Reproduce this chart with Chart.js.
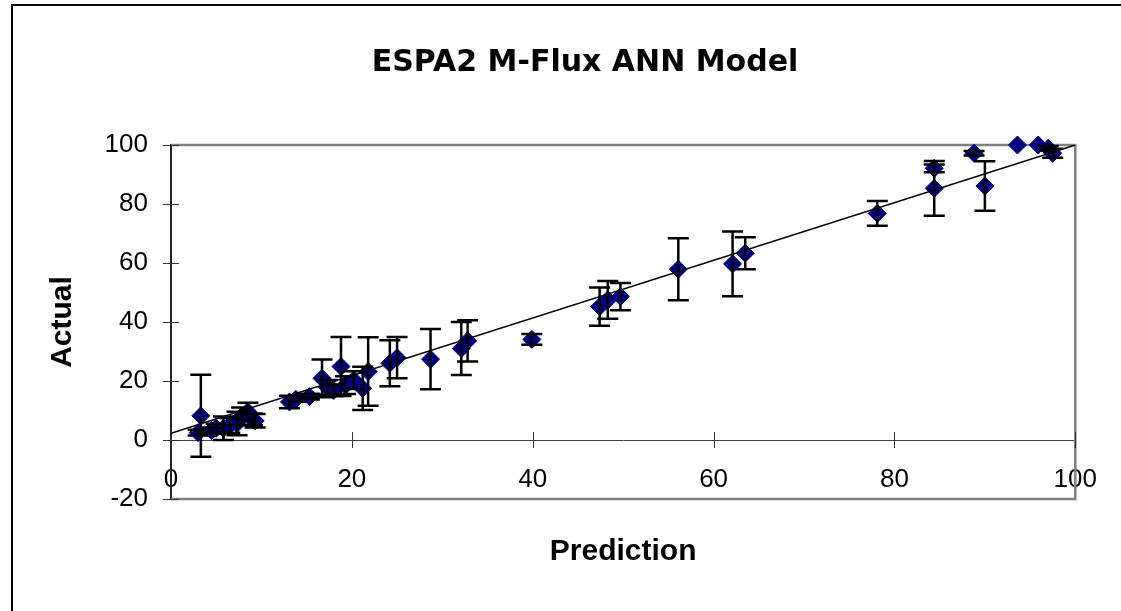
<!DOCTYPE html>
<html>
<head>
<meta charset="utf-8">
<script src="https://cdn.jsdelivr.net/npm/chart.js@4.4.0/dist/chart.umd.min.js"></script>
<style>
  html, body { margin: 0; padding: 0; background: #fff; overflow: hidden; }
  #frame { position: absolute; left: 11px; top: 4px; width: 1200px; height: 700px; border: 2px solid #000; }
  #chart { position: absolute; left: 0; top: 0; }
</style>
</head>
<body>
<div id="frame"></div>
<canvas id="chart" width="1121" height="611"></canvas>
<script>
// values
const prediction = [3.0, 3.3, 4.5, 5.0, 5.8, 6.5, 7.3, 7.8, 8.5, 9.0, 9.3,
  13.1, 13.8, 15.3, 16.7, 17.3, 18.0, 18.8, 19.3, 20.2, 21.2, 21.8,
  24.2, 25.0, 28.7, 32.1, 32.8, 39.9, 47.4, 48.3, 49.7, 56.1, 62.1, 63.5,
  78.1, 84.4, 84.4, 88.8, 90.0, 93.6, 95.9, 97.0, 97.5];
const actual = [2.5, 8.2, 3.2, 4.0, 4.0, 5.0, 5.6, 8.0, 9.6, 7.0, 6.5,
  12.9, 13.8, 14.7, 20.9, 17.8, 16.8, 24.9, 18.6, 20.3, 17.5, 23.2,
  26.0, 27.9, 27.4, 31.0, 33.6, 34.1, 45.2, 47.5, 48.6, 57.9, 59.7, 63.3,
  76.8, 85.3, 92.1, 97.2, 86.1, 100, 100, 98.9, 97.2];
const errors = [1.0, 13.9, 1.0, 1.5, 4.0, 2.5, 4.0, 3.0, 3.0, 2.0, 2.3,
  2.1, 0.8, 1.0, 6.4, 2.5, 2.0, 10.0, 3.0, 3.0, 7.3, 11.6,
  7.8, 7.0, 10.2, 9.0, 7.0, 1.8, 6.5, 6.4, 4.6, 10.5, 11.0, 5.4,
  4.2, 9.3, 1.3, 0.8, 8.4, 0, 0, 0.8, 1.5];
const trendX = [0, 100];
const trendY = [2.3, 100];
const xTicks = [0, 20, 40, 60, 80, 100];
const yTicks = [-20, 0, 20, 40, 60, 80, 100];

const tickFont = { family: '"Liberation Sans", Arial, sans-serif', size: 26 };

// plot border, cross ticks, error bars and titles
const decorations = {
  id: 'decorations',
  beforeDatasetsDraw(chart) {
    const { ctx, chartArea: a, scales: { x, y } } = chart;
    ctx.save();
    ctx.strokeStyle = '#808080';
    ctx.lineWidth = 2.5;
    ctx.beginPath();
    ctx.moveTo(a.left, a.top);
    ctx.lineTo(a.right, a.top);
    ctx.lineTo(a.right, a.bottom);
    ctx.lineTo(a.left, a.bottom);
    ctx.stroke();

    ctx.strokeStyle = '#333';
    ctx.lineWidth = 1;
    ctx.beginPath();
    const y0 = y.getPixelForValue(0);
    x.ticks.forEach(t => {
      const px = Math.round(x.getPixelForValue(t.value)) + 0.5;
      ctx.moveTo(px, y0 - 8);
      ctx.lineTo(px, y0 + 8);
    });
    y.ticks.forEach(t => {
      const py = Math.round(y.getPixelForValue(t.value)) + 0.5;
      ctx.moveTo(a.left - 8, py);
      ctx.lineTo(a.left + 8, py);
    });
    ctx.stroke();
    ctx.restore();
  },
  afterDatasetsDraw(chart) {
    const { ctx, scales: { x, y } } = chart;
    ctx.save();
    ctx.strokeStyle = '#000';
    ctx.lineWidth = 2.5;
    ctx.beginPath();
    prediction.forEach((p, i) => {
      if (!errors[i]) return;
      const px = x.getPixelForValue(p);
      const top = y.getPixelForValue(actual[i] + errors[i]);
      const bot = y.getPixelForValue(actual[i] - errors[i]);
      ctx.moveTo(px, top);
      ctx.lineTo(px, bot);
      ctx.moveTo(px - 10.5, top);
      ctx.lineTo(px + 10.5, top);
      ctx.moveTo(px - 10.5, bot);
      ctx.lineTo(px + 10.5, bot);
    });
    ctx.stroke();
    ctx.restore();
  },
  afterDraw(chart) {
    const { ctx, chartArea: a } = chart;
    ctx.save();
    ctx.fillStyle = '#000';
    ctx.textAlign = 'center';
    ctx.textBaseline = 'middle';
    ctx.font = 'bold 30px "DejaVu Sans"';
    ctx.fillText('ESPA2 M-Flux ANN Model', 585, 63);
    ctx.font = 'bold 30px "Liberation Sans"';
    ctx.fillText('Prediction', (a.left + a.right) / 2, 552);
    ctx.translate(63, (a.top + a.bottom) / 2);
    ctx.rotate(-Math.PI / 2);
    ctx.fillText('Actual', 0, 0);
    ctx.restore();
  }
};

new Chart(document.getElementById('chart'), {
  type: 'scatter',
  data: {
    datasets: [
      {
        label: 'Trend',
        data: trendX.map((v, i) => ({ x: v, y: trendY[i] })),
        showLine: true,
        borderColor: '#000',
        borderWidth: 1.5,
        pointRadius: 0,
        order: 0
      },
      {
        label: 'ANN',
        data: prediction.map((v, i) => ({ x: v, y: actual[i] })),
        pointStyle: 'rectRot',
        pointRadius: 9,
        backgroundColor: '#000080',
        borderColor: '#000080',
        borderWidth: 1,
        clip: false,
        order: 1
      }
    ]
  },
  options: {
    responsive: false,
    animation: false,
    layout: { padding: { left: 0, top: 145, right: 44, bottom: 112 } },
    plugins: { legend: { display: false }, tooltip: { enabled: false } },
    scales: {
      x: {
        type: 'linear',
        position: { y: 0 },
        min: xTicks[0],
        max: xTicks[xTicks.length - 1],
        ticks: { stepSize: xTicks[1] - xTicks[0], color: '#000', font: tickFont, padding: 24 },
        grid: { display: false, drawTicks: false },
        border: { color: '#404040', width: 1 }
      },
      y: {
        type: 'linear',
        min: yTicks[0],
        max: yTicks[yTicks.length - 1],
        ticks: { stepSize: yTicks[1] - yTicks[0], color: '#000', font: tickFont, padding: 23 },
        grid: { display: false, drawTicks: false },
        border: { color: '#222', width: 2 },
        afterFit(scale) { scale.width = 171; }
      }
    }
  },
  plugins: [decorations]
});
</script>
</body>
</html>
